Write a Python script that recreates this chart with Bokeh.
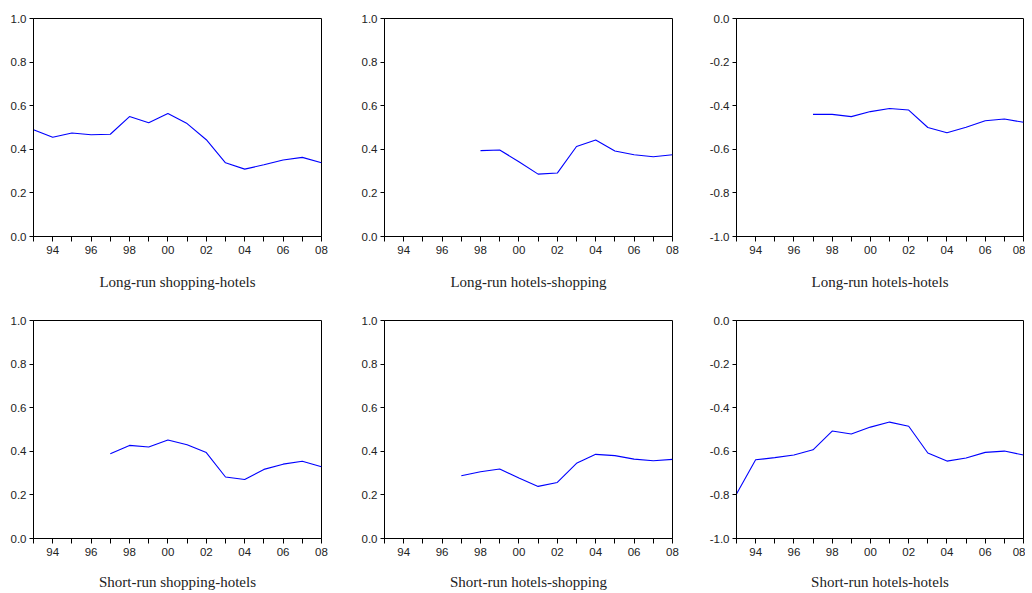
from bokeh.plotting import figure
from bokeh.layouts import gridplot
from bokeh.models import FixedTicker, Range1d, NumeralTickFormatter
from bokeh.embed import file_html
from bokeh.resources import INLINE

years_all = list(range(1993, 2009))

# Long-run shopping-hotels (1993-2008)
lr_sh_years = list(range(1993, 2009))
lr_sh_vals = [0.490, 0.455, 0.475, 0.467, 0.469, 0.550, 0.522, 0.564,
              0.518, 0.444, 0.338, 0.309, 0.329, 0.351, 0.363, 0.338]

# Long-run hotels-shopping (1998-2008)
lr_hs_years = list(range(1998, 2009))
lr_hs_vals = [0.394, 0.397, 0.343, 0.286, 0.291, 0.413, 0.443, 0.392,
              0.375, 0.366, 0.375]

# Long-run hotels-hotels (1997-2008)
lr_hh_years = list(range(1997, 2009))
lr_hh_vals = [-0.440, -0.440, -0.450, -0.427, -0.413, -0.420, -0.500,
              -0.524, -0.499, -0.469, -0.461, -0.476]

# Short-run shopping-hotels (1997-2008)
sr_sh_years = list(range(1997, 2009))
sr_sh_vals = [0.389, 0.427, 0.420, 0.452, 0.430, 0.394, 0.282, 0.271,
              0.317, 0.341, 0.354, 0.329]

# Short-run hotels-shopping (1997-2008)
sr_hs_years = list(range(1997, 2009))
sr_hs_vals = [0.288, 0.306, 0.319, 0.277, 0.239, 0.257, 0.345, 0.386,
              0.380, 0.364, 0.357, 0.363]

# Short-run hotels-hotels (1993-2008)
sr_hh_years = list(range(1993, 2009))
sr_hh_vals = [-0.796, -0.639, -0.629, -0.617, -0.593, -0.507, -0.521,
              -0.489, -0.466, -0.485, -0.608, -0.645, -0.631, -0.605,
              -0.599, -0.617]

titles = ["Long-run shopping-hotels", "Long-run hotels-shopping",
          "Long-run hotels-hotels", "Short-run shopping-hotels",
          "Short-run hotels-shopping", "Short-run hotels-hotels"]

pos_ticks = [0.0, 0.2, 0.4, 0.6, 0.8, 1.0]
neg_ticks = [-1.0, -0.8, -0.6, -0.4, -0.2, 0.0]

# (width, left border, right border)
col_geom = [(340, 33, 19), (345, 44, 13), (340, 51, 2)]
# (height, top border, bottom border, caption standoff)
row_geom = [(300, 18, 64, 17), (293, 20, 55, 15)]

series = [(lr_sh_years, lr_sh_vals, False), (lr_hs_years, lr_hs_vals, False),
          (lr_hh_years, lr_hh_vals, True), (sr_sh_years, sr_sh_vals, False),
          (sr_hs_years, sr_hs_vals, False), (sr_hh_years, sr_hh_vals, True)]

x_labels = {y: ("%02d" % (y % 100)) if y % 2 == 0 else "" for y in years_all}

figs = []
for i, (xs, ys, neg) in enumerate(series):
    r, c = divmod(i, 3)
    w, bl, br = col_geom[c]
    h, bt, bb, stand = row_geom[r]
    yr = Range1d(-1, 0) if neg else Range1d(0, 1)
    p = figure(width=w, height=h, x_range=Range1d(1993, 2008), y_range=yr,
               output_backend="svg", toolbar_location=None,
               min_border_left=bl, min_border_right=br,
               min_border_top=bt, min_border_bottom=bb)
    p.line(xs, ys, line_color="#0000FF", line_width=1.1)
    p.xgrid.visible = False
    p.ygrid.visible = False
    p.outline_line_color = "black"
    p.outline_line_width = 1
    p.background_fill_color = "white"
    p.border_fill_color = "white"

    xa = p.xaxis[0]
    xa.ticker = FixedTicker(ticks=years_all)
    xa.major_label_overrides = x_labels
    xa.major_tick_out = 5
    xa.major_tick_in = 0
    xa.minor_tick_line_color = None
    xa.axis_line_color = "black"
    xa.major_tick_line_color = "black"
    xa.major_label_text_font = "Liberation Sans"
    xa.major_label_text_font_size = "11.5px"
    xa.major_label_text_color = "#222222"
    xa.major_label_standoff = 4
    xa.axis_label = titles[i]
    xa.axis_label_text_font = "Liberation Serif"
    xa.axis_label_text_font_style = "normal"
    xa.axis_label_text_font_size = "15px"
    xa.axis_label_text_color = "#222222"
    xa.axis_label_standoff = stand

    ya = p.yaxis[0]
    ya.ticker = FixedTicker(ticks=neg_ticks if neg else pos_ticks)
    ya.formatter = NumeralTickFormatter(format="0.0")
    ya.major_tick_out = 4
    ya.major_tick_in = 0
    ya.minor_tick_line_color = None
    ya.axis_line_color = "black"
    ya.major_tick_line_color = "black"
    ya.major_label_text_font = "Liberation Sans"
    ya.major_label_text_font_size = "11.5px"
    ya.major_label_text_color = "#222222"
    ya.major_label_standoff = 3
    figs.append(p)

grid = gridplot([figs[0:3], figs[3:6]], toolbar_location=None)

open("out.html", "w").write(file_html(grid, INLINE))
